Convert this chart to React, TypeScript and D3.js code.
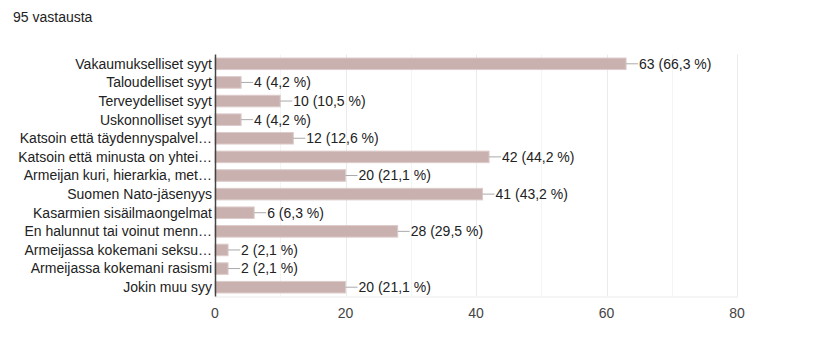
import React from 'react'
import * as d3 from 'd3'

const categories = [
  'Vakaumukselliset syyt',
  'Taloudelliset syyt',
  'Terveydelliset syyt',
  'Uskonnolliset syyt',
  'Katsoin että täydennyspalvel…',
  'Katsoin että minusta on yhtei…',
  'Armeijan kuri, hierarkia, met…',
  'Suomen Nato-jäsenyys',
  'Kasarmien sisäilmaongelmat',
  'En halunnut tai voinut menn…',
  'Armeijassa kokemani seksu…',
  'Armeijassa kokemani rasismi',
  'Jokin muu syy',
]
const counts = [63, 4, 10, 4, 12, 42, 20, 41, 6, 28, 2, 2, 20]
const percents = ['66,3', '4,2', '10,5', '4,2', '12,6', '44,2', '21,1', '43,2', '6,3', '29,5', '2,1', '2,1', '21,1']
const xTicks = [0, 20, 40, 60, 80]
const gridValues = [10, 20, 30, 40, 50, 60, 70, 80]
const total = 95

const W = 817
const H = 362
const margin = { top: 54.5, left: 215, right: 80, bottom: 65.5 }
const font = '"Liberation Sans", Arial, sans-serif'

const App = () => {
  const x = d3.scaleLinear().domain([0, 80]).range([margin.left, W - margin.right])
  const y = d3
    .scaleBand()
    .domain(categories)
    .range([margin.top, H - margin.bottom])
    .paddingInner(0.38)
    .paddingOuter(0.19)

  const bottom = H - margin.bottom

  return (
    <svg
      width={W}
      height={H}
      style={{ position: 'absolute', left: 0, top: 0, background: '#fff' }}
      fontFamily={font}
    >
      <text x={13} y={22} fontSize={14} fill="#222">
        {total} vastausta
      </text>

      {/* grid */}
      <g>
        {gridValues.map((v) => (
          <line
            key={v}
            x1={Math.round(x(v)) + 0.5}
            x2={Math.round(x(v)) + 0.5}
            y1={margin.top}
            y2={bottom}
            stroke={v % 20 === 0 ? '#ebebeb' : '#f4f4f4'}
          />
        ))}
        <line x1={x(0)} x2={x(80) + 1} y1={bottom + 0.5} y2={bottom + 0.5} stroke="#ebebeb" />
      </g>

      {/* bars */}
      <g>
        {categories.map((c, i) => {
          const yc = (y(c) as number) + y.bandwidth() / 2
          const xEnd = x(counts[i])
          return (
            <g key={c}>
              <rect
                x={x(0)}
                y={y(c)}
                width={xEnd - x(0)}
                height={y.bandwidth()}
                fill="#c9b1b0"
                stroke="#dccbca"
                strokeWidth={1}
              />
              <line x1={xEnd} x2={xEnd + 12} y1={yc} y2={yc} stroke="#aaa" strokeWidth={1} />
              <text x={xEnd + 13} y={yc} dy="0.35em" fontSize={14} fill="#222">
                {`${counts[i]} (${percents[i]} %)`}
              </text>
              <text x={x(0) - 3} y={yc} dy="0.35em" fontSize={14} fill="#222" textAnchor="end">
                {c}
              </text>
            </g>
          )
        })}
      </g>

      {/* axis */}
      <line x1={x(0) + 0.5} x2={x(0) + 0.5} y1={margin.top} y2={bottom} stroke="#444" strokeWidth={1.5} />
      <g>
        {xTicks.map((t) => (
          <text key={t} x={x(t)} y={318} fontSize={14} fill="#444" textAnchor="middle">
            {t}
          </text>
        ))}
      </g>
    </svg>
  )
}

export default App
